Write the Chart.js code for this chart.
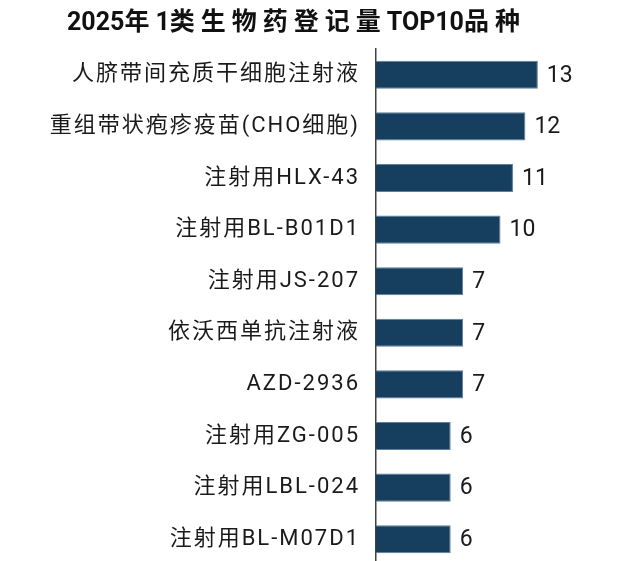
<!DOCTYPE html>
<html>
<head>
<meta charset="utf-8">
<script src="https://cdn.jsdelivr.net/npm/chart.js@4.4.1/dist/chart.umd.min.js"></script>
<style>
  html, body { margin: 0; padding: 0; overflow: hidden; background: #ffffff; width: 644px; height: 561px; }
  #wrap { position: absolute; left: 0; top: 0; width: 644px; height: 565px; }
  #title {
    position: absolute; left: 67px; top: 7px; white-space: nowrap;
    font: bold 25px Roboto, "Noto Sans CJK SC", sans-serif; line-height: 30px; color: #111;
  }
  #title .c { letter-spacing: 6px; }
</style>
</head>
<body>
<div id="wrap">
  <canvas id="chart" width="644" height="565"></canvas>
  <div id="title">2025<span class="c">年</span>1<span class="c">类生物药登记量</span>TOP10<span class="c">品种</span></div>
</div>
<script>
const categories = [
  "人脐带间充质干细胞注射液",
  "重组带状疱疹疫苗(CHO细胞)",
  "注射用HLX-43",
  "注射用BL-B01D1",
  "注射用JS-207",
  "依沃西单抗注射液",
  "AZD-2936",
  "注射用ZG-005",
  "注射用LBL-024",
  "注射用BL-M07D1"
];
const registrations = [13, 12, 11, 10, 7, 7, 7, 6, 6, 6];

const spacingPlugin = {
  id: 'tickSpacing',
  beforeDraw(chart) { chart.ctx.letterSpacing = '2px'; },
  beforeDatasetsDraw(chart) { chart.ctx.letterSpacing = '0px'; },
  afterDatasetsDraw(chart) {
    const ctx = chart.ctx;
    const meta = chart.getDatasetMeta(0);
    ctx.save();
    ctx.letterSpacing = '0px';
    ctx.font = '23px Roboto, "Noto Sans CJK SC", sans-serif';
    ctx.fillStyle = '#1a1a1a';
    ctx.textAlign = 'left';
    ctx.textBaseline = 'middle';
    meta.data.forEach((bar, i) => {
      ctx.fillText(String(registrations[i]), bar.x + 9, bar.y + 1);
    });
    ctx.restore();
  }
};

new Chart(document.getElementById('chart'), {
  type: 'bar',
  data: {
    labels: categories,
    datasets: [{
      data: registrations,
      backgroundColor: '#153e5f',
      borderColor: '#5f7f9b',
      borderWidth: 1,
      borderSkipped: 'start',
      barPercentage: 0.545,
      categoryPercentage: 1
    }]
  },
  options: {
    indexAxis: 'y',
    responsive: false,
    animation: false,
    devicePixelRatio: 1,
    layout: { padding: { top: 49, right: 19, bottom: 0, left: 0 } },
    plugins: {
      legend: { display: false },
      title: { display: false },
      tooltip: { enabled: false }
    },
    scales: {
      x: {
        display: false,
        min: 0,
        max: 20
      },
      y: {
        grid: { display: false, drawTicks: false },
        border: { display: true, color: '#404040', width: 1.5 },
        ticks: {
          autoSkip: false,
          padding: 16,
          color: '#1a1a1a',
          font: { family: 'Roboto, "Noto Sans CJK SC", sans-serif', size: 22 }
        },
        afterFit(scale) {
          scale.width = 376;
          scale.paddingTop = 0;
          scale.paddingBottom = 0;
        }
      }
    }
  },
  plugins: [spacingPlugin]
});
</script>
</body>
</html>
